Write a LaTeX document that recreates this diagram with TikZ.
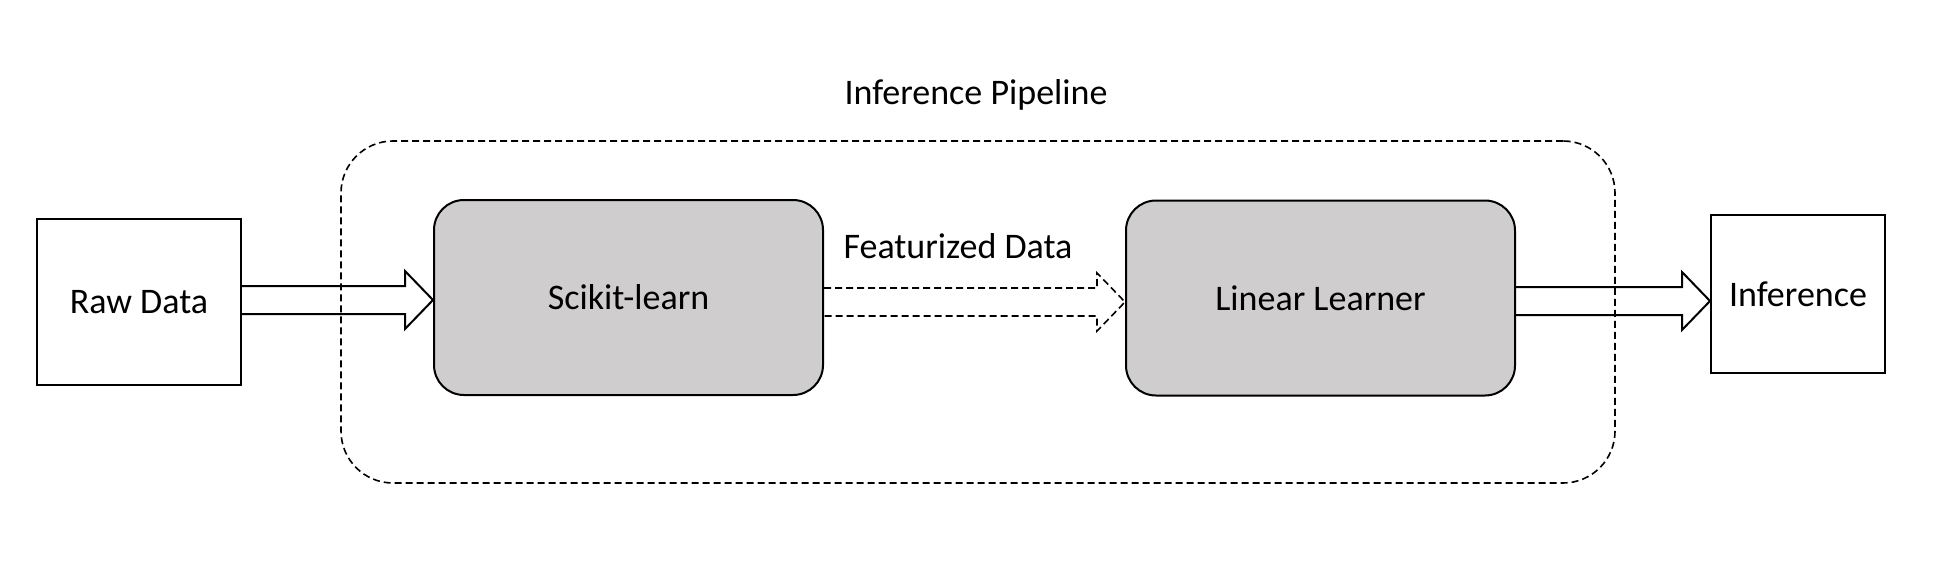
\documentclass[tikz,border=0pt]{standalone}
\usepackage{fontspec}
\setmainfont{Carlito}
\usetikzlibrary{calc}
\definecolor{boxgray}{RGB}{207,205,206}
\newcommand\fatarrow[4]{%
  \draw[#1] ($(#2 |- 0,#4)+(0,-14)$) -- ($(#3 |- 0,#4)+(-28,-14)$) -- ($(#3 |- 0,#4)+(-28,-29)$)
    -- (#3 |- 0,#4) -- ($(#3 |- 0,#4)+(-28,29)$) -- ($(#3 |- 0,#4)+(-28,14)$) -- ($(#2 |- 0,#4)+(0,14)$);}
\begin{document}
\begin{tikzpicture}[x=1pt,y=-1pt,
  every node/.style={font=\fontsize{36}{43}\selectfont},
  plainbox/.style={draw, line width=2pt, inner sep=0pt},
  graybox/.style={draw, line width=2pt, fill=boxgray, rounded corners=30pt, inner sep=0pt, minimum width=389pt, minimum height=195pt},
  container/.style={draw, line width=1.6pt, dash pattern=on 7pt off 4pt, rounded corners=52pt, inner sep=0pt},
  solidarrow/.style={line width=2pt, line join=miter},
  dasharrow/.style={line width=1.6pt, dash pattern=on 7pt off 4pt, line join=miter}]
\useasboundingbox (0,0) rectangle (1934,580);
\node[container, minimum width=1274pt, minimum height=342pt] (pipe) at (978,312) {};
\node (title) at (976,95) {Inference Pipeline};
\node[plainbox, minimum width=204pt, minimum height=166pt] (raw) at (139,302) {Raw Data};
\node[graybox] (sk) at (628.5,297.5) {Scikit-learn};
\node[graybox] (ll) at (1320.5,298) {Linear Learner};
\node[plainbox, minimum width=174pt, minimum height=158pt] (inf) at (1798,294) {Inference};
\node[anchor=base] (feat) at (958,258) {Featurized Data};
\fatarrow{solidarrow}{raw.east}{sk.west}{300}
\fatarrow{dasharrow}{sk.east}{ll.west}{302}
\fatarrow{solidarrow}{ll.east}{inf.west}{301}
\end{tikzpicture}
\end{document}
